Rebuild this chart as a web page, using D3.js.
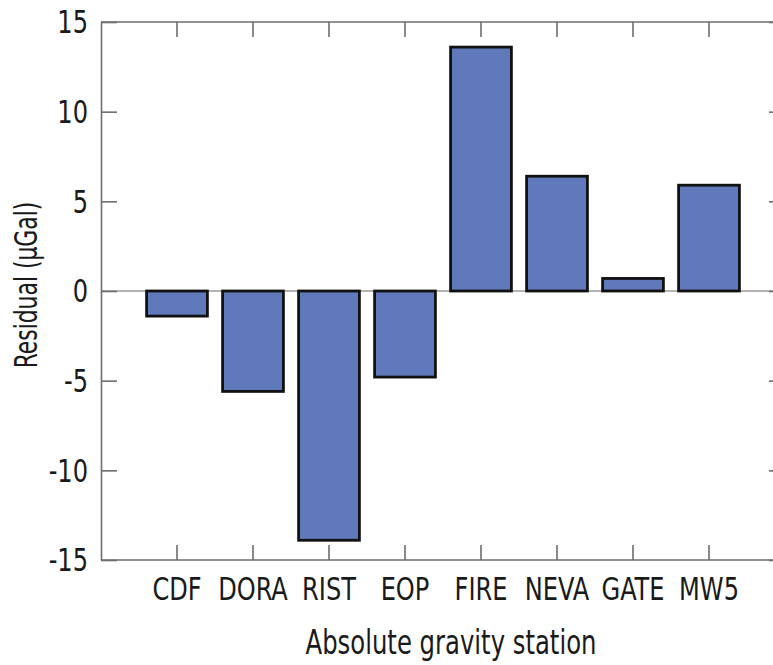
<!DOCTYPE html>
<html>
<head>
<meta charset="utf-8">
<script src="https://cdn.jsdelivr.net/npm/d3@7"></script>
<style>
  body { margin: 0; background: #fff; }
  svg text { font-family: "Liberation Sans Narrow", "DejaVu Sans Condensed", sans-serif; fill: #1a1a1a; }
</style>
</head>
<body>
<svg id="chart" width="773" height="665"></svg>
<script>
// stations and residuals (µGal)
var stations = ["CDF", "DORA", "RIST", "EOP", "FIRE", "NEVA", "GATE", "MW5"];
var residuals = [-1.4, -5.6, -13.9, -4.8, 13.6, 6.4, 0.7, 5.9];
var yTicks = [-15, -10, -5, 0, 5, 10, 15];

var pLeft = 101, pRight = 785, pTop = 22, pBottom = 560;
var axisColor = "#6e6e6e";
var squeeze = 0.85;   // font is wider than the condensed one in the figure

var svg = d3.select("#chart");

var x = d3.scaleBand()
    .domain(stations)
    .range([pLeft + 38, pRight - 38])
    .paddingInner(0.2)
    .paddingOuter(0.1);

var y = d3.scaleLinear()
    .domain([-15, 15])
    .range([pBottom, pTop]);

// zero line
svg.append("line")
    .attr("x1", pLeft).attr("x2", pRight)
    .attr("y1", y(0)).attr("y2", y(0))
    .attr("stroke", "#9a9a9a").attr("stroke-width", 1.5);

// bars
svg.selectAll("rect.bar")
    .data(residuals)
    .enter().append("rect")
    .attr("class", "bar")
    .attr("x", function(d, i) { return x(stations[i]); })
    .attr("width", x.bandwidth())
    .attr("y", function(d) { return y(Math.max(0, d)); })
    .attr("height", function(d) { return Math.abs(y(d) - y(0)); })
    .attr("fill", "#5f79ba")
    .attr("stroke", "#111")
    .attr("stroke-width", 2.8);

function styleAxis(g) {
    g.select(".domain").attr("stroke", axisColor).attr("stroke-width", 1.6);
    g.selectAll(".tick line").attr("stroke", axisColor).attr("stroke-width", 1.6);
}

// left axis
svg.append("g")
    .attr("transform", "translate(" + pLeft + ",0)")
    .call(d3.axisRight(y).tickValues(yTicks).tickSize(16).tickSizeOuter(0).tickFormat(""))
    .call(styleAxis);

svg.selectAll("text.ylab")
    .data(yTicks)
    .enter().append("text")
    .attr("class", "ylab")
    .attr("transform", function(d) { return "translate(88," + y(d) + ") scale(" + squeeze + ",1)"; })
    .attr("dy", "0.36em")
    .attr("text-anchor", "end")
    .attr("font-size", 31.5)
    .text(function(d) { return d; });

// right axis
svg.append("g")
    .attr("transform", "translate(" + pRight + ",0)")
    .call(d3.axisLeft(y).tickValues(yTicks).tickSize(16).tickSizeOuter(0).tickFormat(""))
    .call(styleAxis);

// bottom axis
var gx = svg.append("g")
    .attr("transform", "translate(0," + pBottom + ")")
    .call(d3.axisTop(x).tickSize(15).tickSizeOuter(0).tickFormat(""))
    .call(styleAxis);
gx.select(".domain").attr("d", "M" + pLeft + ",0H" + pRight);

svg.selectAll("text.xlab")
    .data(stations)
    .enter().append("text")
    .attr("class", "xlab")
    .attr("transform", function(d) { return "translate(" + (x(d) + x.bandwidth() / 2) + ",600) scale(" + squeeze + ",1)"; })
    .attr("text-anchor", "middle")
    .attr("font-size", 31.5)
    .text(function(d) { return d; });

// top axis
var gt = svg.append("g")
    .attr("transform", "translate(0," + pTop + ")")
    .call(d3.axisBottom(x).tickSize(15).tickSizeOuter(0).tickFormat(""))
    .call(styleAxis);
gt.select(".domain").attr("d", "M" + pLeft + ",0H" + pRight);

// axis titles
svg.append("text")
    .attr("transform", "translate(451,654) scale(0.82,1)")
    .attr("text-anchor", "middle")
    .attr("font-size", 33)
    .text("Absolute gravity station");

svg.append("text")
    .attr("transform", "translate(37,285) rotate(-90) scale(0.76,1)")
    .attr("text-anchor", "middle")
    .attr("font-size", 32)
    .text("Residual (\u03bcGal)");
</script>
</body>
</html>
